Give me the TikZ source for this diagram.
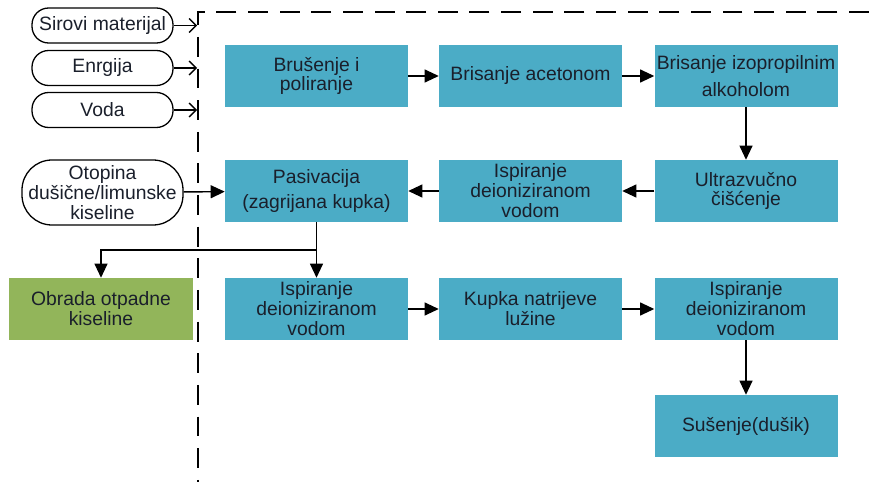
\documentclass[tikz,border=0pt]{standalone}
\usepackage{fontspec}
\setmainfont{Liberation Sans}
\usetikzlibrary{arrows.meta}
\definecolor{procblue}{HTML}{4BACC6}
\definecolor{wastegreen}{HTML}{92B55A}
\definecolor{inktext}{HTML}{1A1F2B}
\tikzset{
	proc/.style={fill=procblue, text=inktext, minimum width=5.49cm, minimum height=1.86cm, inner sep=1pt, align=center},
	waste/.style={proc, fill=wastegreen},
	inbox/.style={draw, line width=1.1pt, text=inktext, rounded corners=0.5cm, minimum width=4.23cm, minimum height=1.05cm, inner sep=0pt, align=center},
	flow/.style={line width=1.2pt, -{Triangle[length=12pt,width=11pt]}},
	feed/.style={line width=1.1pt, -{Straight Barb[length=6pt,width=12pt]}}
}
\begin{document}
\begin{tikzpicture}[x=0.03cm, y=-0.03cm, font=\fontsize{16.5}{17}\selectfont]
	\useasboundingbox (0,0) rectangle (869,482);
	% boundary of the process
	\draw[line width=1.2pt, dash pattern=on 17pt off 10pt] (869,12) -- (198,12) -- (198,482);
	% inputs
	\node[inbox] (raw) at (102.5,25.5) {Sirovi materijal};
	\node[inbox] (energy) at (102.5,68) {Enrgija};
	\node[inbox] (water) at (102.5,110) {Voda};
	\node[inbox, minimum width=4.83cm, minimum height=1.95cm, rounded corners=0.9cm] (acid) at (102.5,192.5) {Otopina\\dušične/limunske\\kiseline};
	\coordinate (rawin) at (197,25.5);
	\coordinate (energyin) at (197,68);
	\coordinate (waterin) at (197,110);
	% process steps
	\node[proc] (grind) at (316.5,76) {Brušenje i\\poliranje};
	\node[proc] (acetone) at (530.5,76) {Brisanje acetonom};
	\node[proc] (ipa) at (746,76) {Brisanje izopropilnim\\[6pt]alkoholom};
	\node[proc] (ultra) at (746,191) {Ultrazvučno\\čišćenje};
	\node[proc] (rinsea) at (530.5,191) {Ispiranje\\deioniziranom\\vodom};
	\node[proc] (passiv) at (316.5,191) {Pasivacija\\[5pt](zagrijana kupka)};
	\node[waste] (waste) at (101,309) {Obrada otpadne\\kiseline};
	\node[proc] (rinseb) at (316.5,309) {Ispiranje\\deioniziranom\\vodom};
	\node[proc] (naoh) at (530.5,309) {Kupka natrijeve\\lužine};
	\node[proc] (rinsec) at (746,309) {Ispiranje\\deioniziranom\\vodom};
	\node[proc] (dry) at (746,426) {Sušenje(dušik)};
	\coordinate (split) at (316.5,250);
	% connectors
	\draw[feed] (raw) -- (rawin);
	\draw[feed] (energy) -- (energyin);
	\draw[feed] (water) -- (waterin);
	\draw[flow] (acid) -- (passiv);
	\draw[flow] (grind) -- (acetone);
	\draw[flow] (acetone) -- (ipa);
	\draw[flow] (ipa) -- (ultra);
	\draw[flow] (ultra) -- (rinsea);
	\draw[flow] (rinsea) -- (passiv);
	\draw[line width=1.2pt] (passiv) -- (split);
	\draw[flow] (split) -| (waste);
	\draw[flow] (split) -- (rinseb);
	\draw[flow] (rinseb) -- (naoh);
	\draw[flow] (naoh) -- (rinsec);
	\draw[flow] (rinsec) -- (dry);
\end{tikzpicture}
\end{document}
